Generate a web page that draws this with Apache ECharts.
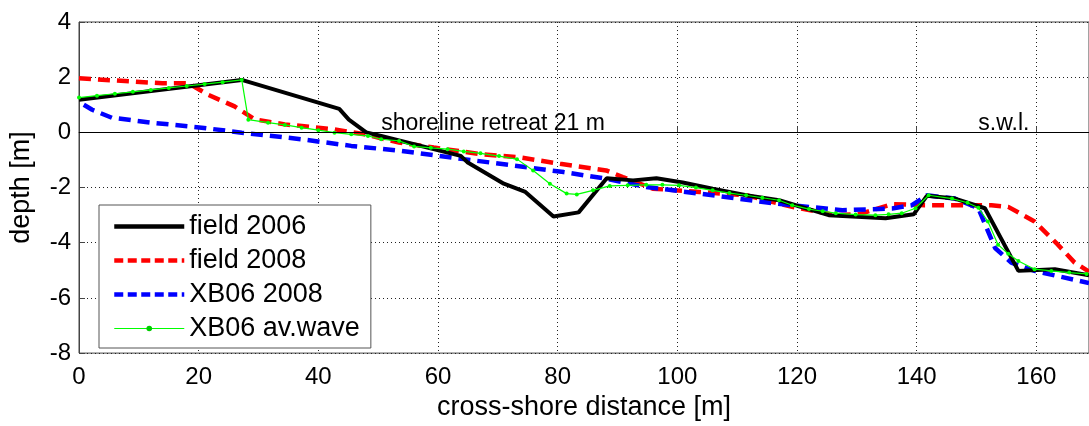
<!DOCTYPE html>
<html>
<head>
<meta charset="utf-8">
<script src="https://cdn.jsdelivr.net/npm/echarts@6/dist/echarts.min.js"></script>
<style>
  html, body { margin: 0; padding: 0; background: #fff; }
  #chart { width: 1089px; height: 426px; }
</style>
</head>
<body>
<div id="chart"></div>
<script>
// profiles (x = cross-shore distance [m], y = depth [m])
const field2006X = [0, 27.2, 43.5, 45.1, 48, 50.5, 63.8, 64.9, 71, 74.6, 79.3, 83.5, 88.2, 92.6, 96.5, 100.9, 105.9, 111.5, 117, 125.3, 134.8, 139.5, 141.7, 146.4, 151.4, 157, 163.1, 168.8];
const field2006Y = [1.18, 1.9, 0.85, 0.46, 0, -0.13, -0.85, -1.08, -1.86, -2.16, -3.05, -2.9, -1.66, -1.74, -1.66, -1.82, -2.04, -2.28, -2.46, -3.0, -3.11, -2.97, -2.3, -2.4, -2.75, -5.02, -4.96, -5.18];

const field2008X = [0, 13.9, 18.3, 21.6, 26, 29.4, 34.4, 42.7, 47.7, 53.5, 59.3, 67.1, 73.8, 80.4, 88.1, 90.9, 95.9, 103.7, 111.5, 119.2, 126.5, 130.3, 135.9, 141.4, 152.5, 155.3, 159.7, 163.6, 166.4, 168.8];
const field2008Y = [1.96, 1.78, 1.78, 1.36, 0.94, 0.47, 0.29, 0.11, -0.07, -0.37, -0.55, -0.79, -0.91, -1.14, -1.38, -1.62, -2.04, -2.16, -2.28, -2.7, -3.0, -2.97, -2.6, -2.64, -2.64, -2.7, -3.23, -4.07, -4.72, -5.05];

const xb2008X = [0.8, 2.2, 5.5, 12.2, 20.5, 27.2, 37.2, 45.5, 53.8, 64.3, 72.6, 81, 88.1, 94.8, 105.9, 116.4, 119.2, 127.6, 135.9, 139.2, 141.7, 146.4, 150.3, 153.1, 155.8, 159.7, 168.8];
const xb2008Y = [1.0, 0.82, 0.53, 0.35, 0.17, -0.01, -0.25, -0.49, -0.67, -0.97, -1.2, -1.44, -1.68, -1.98, -2.28, -2.58, -2.64, -2.82, -2.76, -2.64, -2.28, -2.4, -2.75, -4.19, -4.72, -5.02, -5.46];

const avWaveX = [0, 3, 6, 9, 12, 15, 18, 21, 24, 27.2, 28.3, 31.6, 34.4, 37.2, 40, 42.7, 45.5, 48.3, 50.5, 53.5, 56, 58.8, 61.6, 64.3, 67.1, 70.2, 73.2, 75.9, 78.7, 81.5, 83.2, 85.9, 88.7, 91.7, 94.8, 97.5, 100.3, 103.1, 105.9, 108.7, 111.5, 114.2, 117, 119.2, 122, 124.3, 126.5, 129.8, 133.1, 135.3, 137.5, 139.8, 142, 145.9, 148.5, 150.3, 151.9, 153.6, 155.3, 157, 159.7, 162.5, 165.5, 168.4];
const avWaveY = [1.26, 1.33, 1.40, 1.47, 1.54, 1.61, 1.68, 1.75, 1.82, 1.9, 0.46, 0.35, 0.27, 0.17, 0.08, -0.01, -0.07, -0.13, -0.25, -0.31, -0.51, -0.56, -0.61, -0.69, -0.76, -0.86, -0.97, -1.38, -1.86, -2.22, -2.25, -2.1, -1.94, -1.92, -1.9, -1.9, -1.92, -2.0, -2.1, -2.2, -2.28, -2.37, -2.46, -2.64, -2.78, -2.86, -2.93, -2.98, -3.0, -2.97, -2.93, -2.75, -2.28, -2.4, -2.55, -2.73, -3.23, -4.07, -4.4, -4.66, -4.96, -5.02, -5.08, -5.13];

const seriesNames = ['field 2006', 'field 2008', 'XB06 2008', 'XB06 av.wave'];
const notes = [
  { text: 'shoreline retreat 21 m', x: 50.5, y: 0 },
  { text: 's.w.l.', x: 150.3, y: 0 }
];

const FONT = '"Liberation Sans", Arial, sans-serif';
const DASH = [12, 7];

function zip(xs, ys) {
  return xs.map((x, i) => [x, ys[i]]);
}

const chart = echarts.init(document.getElementById('chart'));

const option = {
  animation: false,
  textStyle: { fontFamily: FONT },
  grid: {
    left: 77, top: 22, right: -3, bottom: 69,
    show: true, borderColor: '#444', borderWidth: 1
  },
  legend: {
    orient: 'vertical',
    left: 99, top: 205,
    itemWidth: 70, itemHeight: 7, itemGap: 7, itemTextGap: 6,
    padding: [8, 11, 6, 13],
    borderColor: '#555', borderWidth: 1,
    backgroundColor: '#fff',
    textStyle: { fontSize: 27, color: '#000', fontFamily: FONT },
    data: [
      { name: seriesNames[0], itemStyle: { opacity: 0 }, lineStyle: { color: '#000', width: 4.5 } },
      { name: seriesNames[1], itemStyle: { opacity: 0 }, lineStyle: { color: '#ff0000', width: 4.5, type: [9, 4.5] } },
      { name: seriesNames[2], itemStyle: { opacity: 0 }, lineStyle: { color: '#0000ff', width: 4.5, type: [9, 4.5] } },
      { name: seriesNames[3], itemStyle: { color: '#00cc00' }, lineStyle: { color: '#00ff00', width: 1.2 } }
    ]
  },
  xAxis: {
    type: 'value',
    min: 0, max: 168.8, interval: 20,
    name: 'cross-shore distance [m]',
    nameLocation: 'middle', nameGap: 36,
    nameTextStyle: { fontSize: 27, color: '#000', fontFamily: FONT },
    axisLine: { lineStyle: { color: '#444' } },
    axisTick: { inside: true, length: 6, lineStyle: { color: '#444' } },
    axisLabel: { fontSize: 24, color: '#000', margin: 12, showMaxLabel: false, fontFamily: FONT },
    splitLine: { show: true, lineStyle: { type: [1, 3], color: '#222' } }
  },
  yAxis: {
    type: 'value',
    min: -8, max: 4, interval: 2,
    name: 'depth [m]',
    nameLocation: 'middle', nameGap: 44,
    nameTextStyle: { fontSize: 27, color: '#000', fontFamily: FONT },
    axisLine: { show: true, lineStyle: { color: '#444' } },
    axisTick: { show: true, inside: true, length: 6, lineStyle: { color: '#444' } },
    axisLabel: { fontSize: 24, color: '#000', margin: 8, fontFamily: FONT },
    splitLine: { show: true, lineStyle: { type: [1, 3], color: '#222' } }
  },
  series: [
    {
      name: seriesNames[0], type: 'line', symbol: 'none', z: 3,
      data: zip(field2006X, field2006Y),
      lineStyle: { color: '#000', width: 4 },
      itemStyle: { color: '#000' },
      markLine: {
        silent: true, symbol: 'none', label: { show: false },
        lineStyle: { color: '#000', width: 1, type: 'solid' },
        data: [{ yAxis: 0 }]
      }
    },
    {
      name: seriesNames[1], type: 'line', symbol: 'none', z: 2,
      data: zip(field2008X, field2008Y),
      lineStyle: { color: '#ff0000', width: 4.5, type: DASH },
      itemStyle: { color: '#ff0000' }
    },
    {
      name: seriesNames[2], type: 'line', symbol: 'none', z: 2,
      data: zip(xb2008X, xb2008Y),
      lineStyle: { color: '#0000ff', width: 4.5, type: DASH },
      itemStyle: { color: '#0000ff' }
    },
    {
      name: seriesNames[3], type: 'line', z: 4,
      symbol: 'circle', symbolSize: 4, showAllSymbol: true,
      data: zip(avWaveX, avWaveY),
      lineStyle: { color: '#00ff00', width: 1.2 },
      itemStyle: { color: '#00ff00' }
    }
  ]
};

chart.setOption(option);

// text notes sit just above the still-water line
chart.setOption({
  graphic: notes.map(n => {
    const p = chart.convertToPixel({ gridIndex: 0 }, [n.x, n.y]);
    return {
      type: 'text', x: p[0], y: p[1] + 3,
      style: {
        text: n.text, fontSize: 23, fill: '#000', fontFamily: FONT,
        textAlign: 'left', textVerticalAlign: 'bottom'
      }
    };
  })
});
</script>
</body>
</html>
